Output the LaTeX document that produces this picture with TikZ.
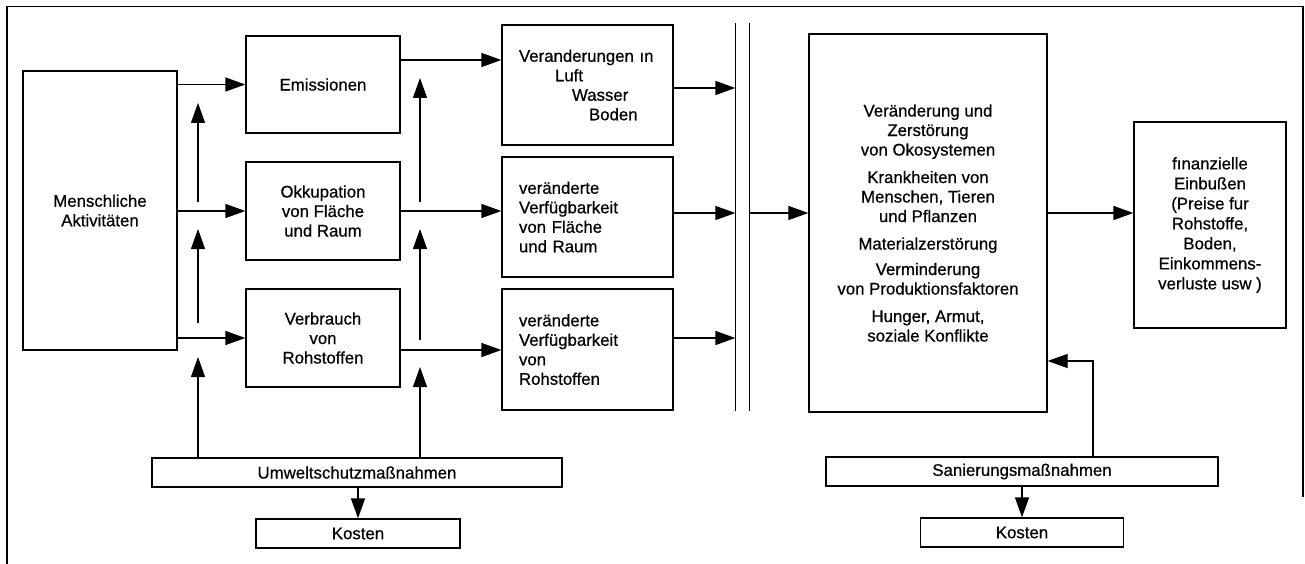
\documentclass[tikz,border=0pt]{standalone}
\usepackage{fontspec}
\setmainfont{Liberation Sans}
\newfontfamily\hv{Liberation Sans}[FakeBold=0.6]
\usetikzlibrary{arrows.meta}
\begin{document}
\begin{tikzpicture}[x=1pt,y=-1pt,
  line width=1.3pt,
  box/.style={draw, rectangle, inner sep=0pt, font=\hv\fontsize{16.8}{19.5}\selectfont, align=center},
  arr/.style={-{Triangle[length=20pt,width=14pt]}}]
\useasboundingbox (0,0) rectangle (1305,564);
% outer frame
\draw (7,564) -- (7,6.5) -- (1303,6.5) -- (1303,497);
% boxes
\node[box, minimum width=154pt, minimum height=279pt] (M) at (100,210.5) {Menschliche\\Aktivitäten};
\node[box, minimum width=154pt, minimum height=97pt] (E) at (323,84.5) {Emissionen};
\node[box, minimum width=154pt, minimum height=98pt] (O) at (323,211) {Okkupation\\von Fläche\\und Raum};
\node[box, minimum width=154pt, minimum height=98pt] (V) at (323,338) {Verbrauch\\von\\Rohstoffen};
\node[box, minimum width=171pt, minimum height=120pt, text width=137pt, align=left] (L) at (587.5,85)
  {Veranderungen ın\\\hspace*{36pt}Luft\\\hspace*{53pt}Wasser\\\hspace*{70pt}Boden};
\node[box, minimum width=171pt, minimum height=120pt, text width=137pt, align=left] (F) at (587.5,217)
  {veränderte\\Verfügbarkeit\\von Fläche\\und Raum};
\node[box, minimum width=171pt, minimum height=121pt, text width=137pt, align=left] (R) at (587.5,349.5)
  {veränderte\\Verfügbarkeit\\von\\Rohstoffen};
\node[inner sep=0pt, minimum width=13pt, minimum height=386pt] (bar) at (742.5,217) {};
\draw (bar.north west) -- (bar.south west);
\draw (bar.north east) -- (bar.south east);
\node[box, minimum width=238pt, minimum height=378pt] (B) at (928,223)
  {Veränderung und\\Zerstörung\\von Okosystemen\\[8pt]Krankheiten von\\Menschen, Tieren\\und Pflanzen\\[8pt]Materialzerstörung\\[6pt]Verminderung\\von Produktionsfaktoren\\[8pt]Hunger, Armut,\\soziale Konflikte};
\node[box, minimum width=152pt, minimum height=206pt, font=\hv\fontsize{16.8}{20}\selectfont] (Fin) at (1210,225)
  {fınanzielle\\Einbußen\\(Preise fur\\Rohstoffe,\\Boden,\\Einkommens-\\verluste usw )};
\node[box, minimum width=410pt, minimum height=29pt] (U) at (357,472.5) {Umweltschutzmaßnahmen};
\node[box, minimum width=204pt, minimum height=29pt] (K1) at (358,533.5) {Kosten};
\node[box, minimum width=392pt, minimum height=29pt] (S) at (1022,471.5) {Sanierungsmaßnahmen};
\node[box, minimum width=203pt, minimum height=29pt] (K2) at (1022,532.5) {Kosten};
% helper coordinates
\coordinate (a1) at (198,202); \coordinate (a1t) at (198,103);
\coordinate (a2) at (198,323); \coordinate (a2t) at (198,229);
\coordinate (a3t) at (198,357);
\coordinate (b1) at (420,202); \coordinate (b1t) at (420,78);
\coordinate (b2) at (420,340); \coordinate (b2t) at (420,229);
\coordinate (b3t) at (420,367);
\coordinate (yEL) at (0,60);
\coordinate (yVR) at (0,350);
\coordinate (yL) at (0,88);
\coordinate (yF) at (0,213);
\coordinate (yR) at (0,338);
\coordinate (yS) at (0,361);
\coordinate (xS) at (1093,0);
% left arrows
\draw[arr] (M.east |- E.west) -- (E.west);
\draw[arr] (M.east |- O.west) -- (O.west);
\draw[arr] (M.east |- V.west) -- (V.west);
\draw[arr] (a1) -- (a1t);
\draw[arr] (a2) -- (a2t);
\draw[arr] (U.north -| a3t) -- (a3t);
\draw[arr] (b1) -- (b1t);
\draw[arr] (b2) -- (b2t);
\draw[arr] (U.north -| b3t) -- (b3t);
% middle arrows
\draw[arr] (E.east |- yEL) -- (L.west |- yEL);
\draw[arr] (O.east) -- (O.east -| F.west);
\draw[arr] (V.east |- yVR) -- (R.west |- yVR);
\draw[arr] (L.east |- yL) -- (bar.west |- yL);
\draw[arr] (F.east |- yF) -- (bar.west |- yF);
\draw[arr] (R.east |- yR) -- (bar.west |- yR);
\draw[arr] (bar.east |- yF) -- (B.west |- yF);
\draw[arr] (B.east |- yF) -- (Fin.west |- yF);
% feedback and costs
\draw[arr] (S.north -| xS) |- (B.east |- yS);
\draw[arr] (U.south -| K1.north) -- (K1.north);
\draw[arr] (S.south -| K2.north) -- (K2.north);
\end{tikzpicture}
\end{document}
